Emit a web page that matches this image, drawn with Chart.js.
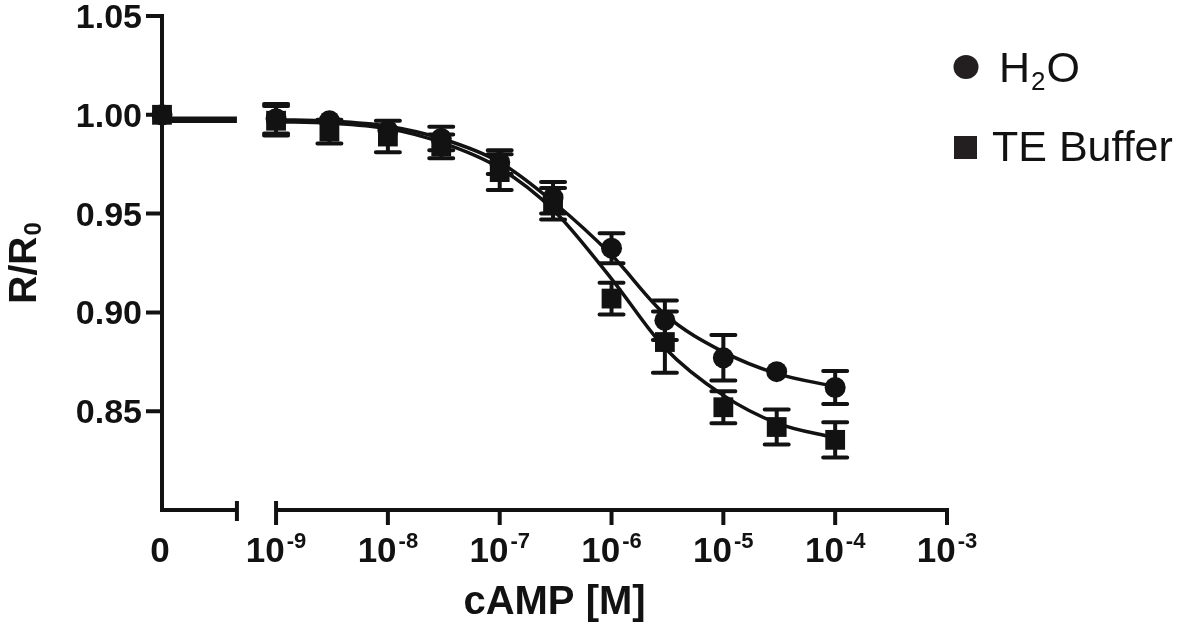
<!DOCTYPE html>
<html>
<head>
<meta charset="utf-8">
<script src="https://cdn.jsdelivr.net/npm/chart.js@4"></script>
<style>
html,body{margin:0;padding:0;background:#ffffff;}
#wrap{width:1181px;height:629px;position:relative;}
canvas{display:block;}
</style>
</head>
<body>
<div id="wrap"><canvas id="c" width="1181" height="629"></canvas></div>
<script>
// ---- data ----
const concentrations = [1e-9, 3e-9, 1e-8, 3e-8, 1e-7, 3e-7, 1e-6, 3e-6, 1e-5, 3e-5, 1e-4];
const h2oMean = [0.998, 0.997, 0.992, 0.988, 0.976, 0.958, 0.9325, 0.896, 0.877, 0.870, 0.862];
const h2oSem  = [0.0075, 0.004, 0.005, 0.006, 0.006, 0.008, 0.0076, 0.010, 0.0115, 0.002, 0.0084];
const teMean  = [0.997, 0.9915, 0.989, 0.984, 0.971, 0.955, 0.907, 0.885, 0.852, 0.842, 0.8355];
const teSem   = [0.0075, 0.006, 0.008, 0.006, 0.009, 0.008, 0.008, 0.0155, 0.0081, 0.0089, 0.0089];
const h2oFit  = [0.9975, 0.9968, 0.9942, 0.988, 0.976, 0.956, 0.929, 0.899, 0.880, 0.869, 0.8625];
const teFit   = [0.9965, 0.9958, 0.993, 0.986, 0.973, 0.952, 0.917, 0.882, 0.858, 0.844, 0.8365];
const zeroMean = [1.000, 1.000];           // H2O, TE at cAMP = 0
const zeroSegmentLevel = [0.9983, 0.9967];  // H2O, TE fitted level in the "0" segment
const xTickExponents = [-9, -8, -7, -6, -5, -4, -3];
const yTicks = [0.85, 0.90, 0.95, 1.00, 1.05];
const yTickLabels = ['0.85', '0.90', '0.95', '1.00', '1.05'];
const seriesNames = ['H', 'TE Buffer'];
const xTitle = 'cAMP [M]';

// ---- axis layout constants (positions on the log axis) ----
const ZERO_POS = -10.02;
const BREAK_POS = -9.35;
const X_MAX = -3;
const Y_MIN = 0.80, Y_MAX = 1.05;

const INK = '#121212';
const FONT = '"Liberation Sans", Arial, Helvetica, sans-serif';

const logX = concentrations.map(c => Math.log10(c));
const pts = (xs, ys) => xs.map((x, i) => ({x: x, y: ys[i]}));

const h2oPoints = [{x: ZERO_POS, y: zeroMean[0]}].concat(pts(logX, h2oMean));
const tePoints  = [{x: ZERO_POS, y: zeroMean[1]}].concat(pts(logX, teMean));

const errorSets = [
  {xs: logX, ys: h2oMean, es: h2oSem, r: 10.5},
  {xs: logX, ys: teMean, es: teSem, r: 10}
];

const errorBarPlugin = {
  id: 'errorBars',
  beforeDatasetsDraw(chart) {
    const ctx = chart.ctx, xs = chart.scales.x, ys = chart.scales.y;
    ctx.save();
    ctx.strokeStyle = INK;
    ctx.lineWidth = 4;
    ctx.lineCap = 'round';
    errorSets.forEach(s => {
      s.xs.forEach((xv, i) => {
        const px = xs.getPixelForValue(xv);
        const pyT = ys.getPixelForValue(s.ys[i] + s.es[i]);
        const pyB = ys.getPixelForValue(s.ys[i] - s.es[i]);
        const py = ys.getPixelForValue(s.ys[i]);
        if (py - pyT < s.r) return; // hidden behind the symbol
        ctx.beginPath();
        ctx.moveTo(px, pyT); ctx.lineTo(px, pyB);
        ctx.moveTo(px - 12, pyT); ctx.lineTo(px + 12, pyT);
        ctx.moveTo(px - 12, pyB); ctx.lineTo(px + 12, pyB);
        ctx.stroke();
      });
    });
    ctx.restore();
  }
};

const axesPlugin = {
  id: 'brokenAxes',
  afterDraw(chart) {
    const ctx = chart.ctx, xs = chart.scales.x, ys = chart.scales.y;
    const x0 = xs.getPixelForValue(ZERO_POS);
    const y0 = ys.getPixelForValue(Y_MIN);
    const yTop = ys.getPixelForValue(Y_MAX);
    ctx.save();
    ctx.strokeStyle = INK;
    ctx.fillStyle = INK;
    ctx.lineWidth = 4;
    ctx.lineCap = 'butt';
    ctx.lineJoin = 'miter';

    // y axis with ticks
    ctx.beginPath();
    ctx.moveTo(x0 - 16, yTop);
    ctx.lineTo(x0, yTop);
    ctx.lineTo(x0, y0);
    ctx.lineTo(xs.getPixelForValue(BREAK_POS), y0);
    ctx.stroke();
    ctx.beginPath();
    yTicks.forEach(v => {
      const py = ys.getPixelForValue(v);
      ctx.moveTo(x0 - 16, py); ctx.lineTo(x0, py);
    });
    ctx.stroke();

    // break tick of first segment
    const xb = xs.getPixelForValue(BREAK_POS);
    ctx.beginPath();
    ctx.moveTo(xb, y0 - 9); ctx.lineTo(xb, y0 + 11);
    ctx.stroke();

    // second segment
    const x9 = xs.getPixelForValue(xTickExponents[0]);
    const x3 = xs.getPixelForValue(xTickExponents[xTickExponents.length - 1]);
    ctx.beginPath();
    ctx.moveTo(x9, y0); ctx.lineTo(x3 + 2, y0);
    ctx.stroke();
    ctx.beginPath();
    xTickExponents.forEach((e, i) => {
      const px = xs.getPixelForValue(e);
      ctx.moveTo(px, i === 0 ? y0 - 9 : y0 - 2); ctx.lineTo(px, y0 + 15);
    });
    ctx.stroke();

    // y tick labels
    ctx.font = 'bold 34px ' + FONT;
    ctx.textAlign = 'right';
    ctx.textBaseline = 'alphabetic';
    yTicks.forEach((v, i) => {
      const py = ys.getPixelForValue(v);
      ctx.fillText(yTickLabels[i], x0 - 20, py + 12);
    });

    // x tick labels
    const labBase = 562;
    ctx.textAlign = 'left';
    ctx.font = 'bold 35px ' + FONT;
    const w0 = ctx.measureText('0').width;
    ctx.fillText('0', x0 - w0 / 2 - 2, labBase);
    xTickExponents.forEach(e => {
      const px = xs.getPixelForValue(e);
      ctx.font = 'bold 35px ' + FONT;
      const wm = ctx.measureText('10').width;
      ctx.font = 'bold 22px ' + FONT;
      const sup = '-' + Math.abs(e);
      const ws = ctx.measureText(sup).width;
      const start = px - (wm + 2 + ws) / 2;
      ctx.font = 'bold 35px ' + FONT;
      ctx.fillText('10', start, labBase);
      ctx.font = 'bold 22px ' + FONT;
      ctx.fillText(sup, start + wm + 2, labBase - 14);
    });

    // x title
    ctx.font = 'bold 40px ' + FONT;
    ctx.textAlign = 'center';
    ctx.fillText(xTitle, (x0 + x3) / 2, 614);

    // y title R/R0 (rotated)
    ctx.save();
    ctx.translate(36, (yTop + y0) / 2);
    ctx.rotate(-Math.PI / 2);
    ctx.textAlign = 'left';
    ctx.font = 'bold 39px ' + FONT;
    const wr = ctx.measureText('R/R').width;
    ctx.font = 'bold 24px ' + FONT;
    const wsub = ctx.measureText('0').width;
    const st = -(wr + 1 + wsub) / 2;
    ctx.font = 'bold 39px ' + FONT;
    ctx.fillText('R/R', st, 0);
    ctx.font = 'bold 24px ' + FONT;
    ctx.fillText('0', st + wr + 1, 5);
    ctx.restore();

    // legend
    ctx.fillStyle = '#231f20';
    ctx.beginPath();
    ctx.ellipse(966, 67, 12.5, 12, 0, 0, Math.PI * 2);
    ctx.fill();
    ctx.fillRect(954, 136, 23, 23);
    ctx.fillStyle = INK;
    ctx.textAlign = 'left';
    ctx.font = '43px ' + FONT;
    ctx.fillText(seriesNames[0], 999, 82);
    const wh = ctx.measureText(seriesNames[0]).width;
    ctx.font = '26px ' + FONT;
    ctx.fillText('2', 999 + wh + 1, 90);
    const w2 = ctx.measureText('2').width;
    ctx.font = '43px ' + FONT;
    ctx.fillText('O', 999 + wh + 2 + w2, 82);
    ctx.fillText(seriesNames[1], 992, 161);
    ctx.restore();
  }
};

const lineCommon = {
  showLine: true, pointRadius: 0, borderColor: INK, borderWidth: 3.5,
  cubicInterpolationMode: 'monotone', fill: false, clip: false
};

new Chart(document.getElementById('c'), {
  type: 'scatter',
  data: {
    datasets: [
      Object.assign({label: 'TE Buffer', data: tePoints, showLine: false,
        pointStyle: 'rect', pointRadius: 14, pointHoverRadius: 14,
        backgroundColor: INK, borderColor: INK, borderWidth: 0, clip: false}),
      Object.assign({label: 'H2O', data: h2oPoints, showLine: false,
        pointStyle: 'circle', pointRadius: 10.5, pointHoverRadius: 10.5,
        backgroundColor: INK, borderColor: INK, borderWidth: 0, clip: false}),
      Object.assign({label: 'TE fit', data: pts(logX, teFit)}, lineCommon),
      Object.assign({label: 'H2O fit', data: pts(logX, h2oFit)}, lineCommon),
      Object.assign({label: 'TE zero', data: [{x: ZERO_POS, y: zeroSegmentLevel[1]}, {x: BREAK_POS, y: zeroSegmentLevel[1]}]}, lineCommon),
      Object.assign({label: 'H2O zero', data: [{x: ZERO_POS, y: zeroSegmentLevel[0]}, {x: BREAK_POS, y: zeroSegmentLevel[0]}]}, lineCommon)
    ]
  },
  options: {
    responsive: false,
    animation: false,
    devicePixelRatio: 1,
    layout: {padding: {left: 162, right: 234, top: 16, bottom: 119}},
    plugins: {legend: {display: false}, tooltip: {enabled: false}, title: {display: false}},
    scales: {
      x: {type: 'linear', min: ZERO_POS, max: X_MAX, display: false},
      y: {type: 'linear', min: Y_MIN, max: Y_MAX, display: false}
    }
  },
  plugins: [errorBarPlugin, axesPlugin]
});
</script>
</body>
</html>
